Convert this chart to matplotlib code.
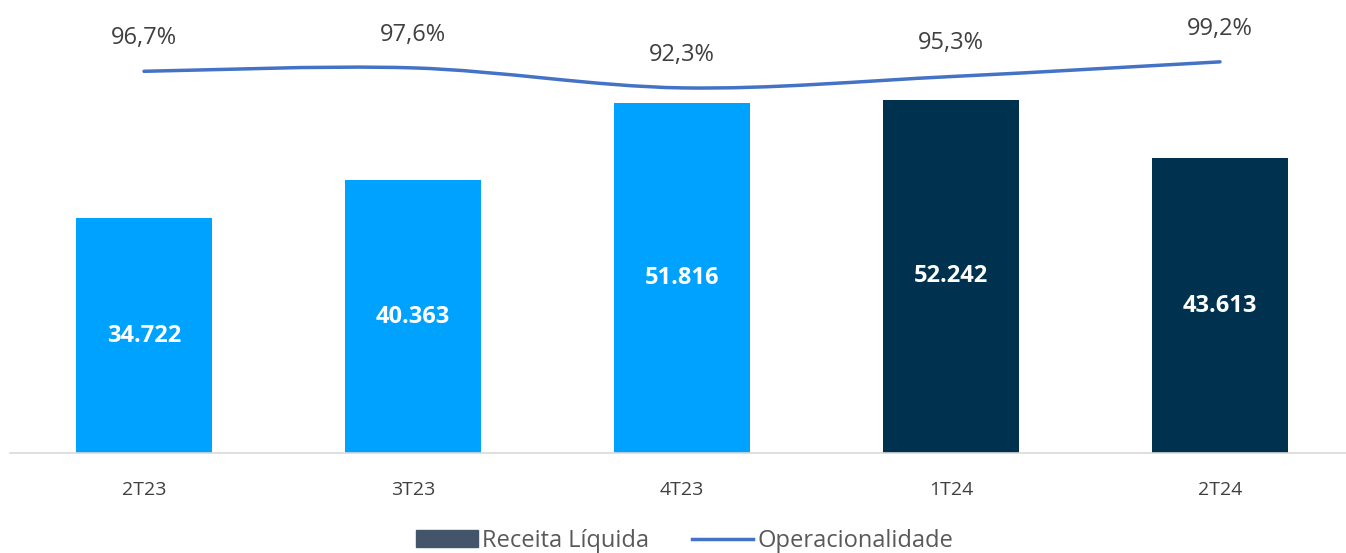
import numpy as np
import matplotlib.pyplot as plt
from matplotlib.path import Path
from matplotlib.patches import PathPatch, Patch
from matplotlib.lines import Line2D

plt.rcParams['font.family'] = ['Open Sans', 'DejaVu Sans']

# dados
trimestres = ['2T23', '3T23', '4T23', '1T24', '2T24']
receita = [34722, 40363, 51816, 52242, 43613]
receita_txt = ['34.722', '40.363', '51.816', '52.242', '43.613']
operacionalidade = [96.7, 97.6, 92.3, 95.3, 99.2]
operac_txt = ['96,7%', '97,6%', '92,3%', '95,3%', '99,2%']
cores = ['#00A2FF', '#00A2FF', '#00A2FF', '#00314F', '#00314F']

fig = plt.figure(figsize=(13.46, 5.53), dpi=100)
ax = fig.add_axes([9.5 / 1346, 100 / 553, 1345 / 1346, 453 / 553])
x = np.arange(len(trimestres))

ax.bar(x, receita, width=0.505, color=cores, zorder=2)
for xi, v, t in zip(x, receita, receita_txt):
    ax.text(xi, v / 2, t, ha='center', va='center', color='white',
            fontsize=17, fontweight='bold')

ax.set_xlim(-0.5, len(trimestres) - 0.5)
ax.set_ylim(0, 67000)
ax.set_yticks([])
ax.set_xticks(x)
ax.set_xticklabels(trimestres, fontsize=14, color='#404040')
ax.tick_params(axis='x', length=0, pad=20)
for s in ['top', 'right', 'left']:
    ax.spines[s].set_visible(False)
ax.spines['bottom'].set_color('#D9D9D9')
ax.spines['bottom'].set_linewidth(1.2)

# linha suavizada (estilo Excel)
ax2 = ax.twinx()
ax2.set_ylim(-4.5, 115.6)
ax2.axis('off')
pts = np.column_stack([x, operacionalidade])
verts = [tuple(pts[0])]
codes = [Path.MOVETO]
t = 1 / 6
for i in range(len(pts) - 1):
    p0 = pts[i - 1] if i > 0 else pts[i]
    p1 = pts[i]
    p2 = pts[i + 1]
    p3 = pts[i + 2] if i + 2 < len(pts) else pts[i + 1]
    c1 = p1 + (p2 - p0) * t
    c2 = p2 - (p3 - p1) * t
    verts += [tuple(c1), tuple(c2), tuple(p2)]
    codes += [Path.CURVE4] * 3
ax2.add_patch(PathPatch(Path(verts, codes), fill=False, edgecolor='#4472C4',
                        linewidth=2.5, capstyle='round', zorder=3))
for xi, v, s in zip(x, operacionalidade, operac_txt):
    ax2.annotate(s, (xi, v), xytext=(0, 24), textcoords='offset points',
                 ha='center', va='center', fontsize=17, color='#404040')

handles = [Patch(color='#44546A'), Line2D([], [], color='#4472C4', linewidth=2.5)]
fig.legend(handles, ['Receita Líquida', 'Operacionalidade'], loc='center',
           bbox_to_anchor=(685 / 1346, 1 - 541 / 553), ncol=2, frameon=False,
           fontsize=17, labelcolor='#595959', handlelength=2.6, handleheight=0.7,
           columnspacing=1.8, handletextpad=0.2)

fig.savefig('out.png', dpi=100)
